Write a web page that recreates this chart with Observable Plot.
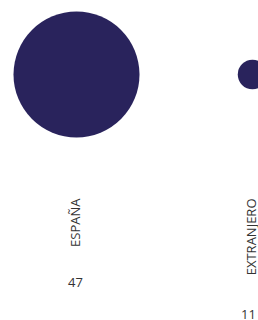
<!DOCTYPE html>
<html>
<head>
<meta charset="utf-8">
<script src="https://cdn.jsdelivr.net/npm/d3@7"></script>
<script src="https://cdn.jsdelivr.net/npm/@observablehq/plot@0.6"></script>
<style>
  html, body { margin: 0; padding: 0; background: #fff; }
  #chart { width: 258px; height: 320px; overflow: hidden; }
</style>
</head>
<body>
<div id="chart"></div>
<script>
const categories = ["ESPAÑA", "EXTRANJERO"];
const values = [47, 11];

const data = categories.map((name, i) => ({ name, value: values[i] }));
const color = "#29235c";
const textColor = "#333333";
const font = "'Open Sans', sans-serif";

const chart = Plot.plot({
  width: 258,
  height: 320,
  margin: 0,
  style: { fontFamily: font, background: "#fff" },
  x: { type: "point", domain: categories, range: [75.5, 252], padding: 0, axis: null },
  r: { type: "linear", domain: [0, 47], range: [0, 63] },
  marks: [
    Plot.dot(data, { x: "name", r: "value", fill: color, frameAnchor: "top", dy: 74 }),
    Plot.text(data, {
      x: "name", text: "name", rotate: -90, textAnchor: "end",
      frameAnchor: "top", dy: 198, dx: -6, fontSize: 13, fill: textColor
    }),
    Plot.text(data.filter(d => d.name === "ESPAÑA"), {
      x: "name", text: d => String(d.value), frameAnchor: "top", dy: 277.5,
      fontSize: 13, fill: textColor, dx: -1
    }),
    Plot.text(data.filter(d => d.name === "EXTRANJERO"), {
      x: "name", text: d => String(d.value), frameAnchor: "top", dy: 309,
      fontSize: 13, fill: textColor, dx: -4
    })
  ]
});
document.getElementById("chart").appendChild(chart);
</script>
</body>
</html>
